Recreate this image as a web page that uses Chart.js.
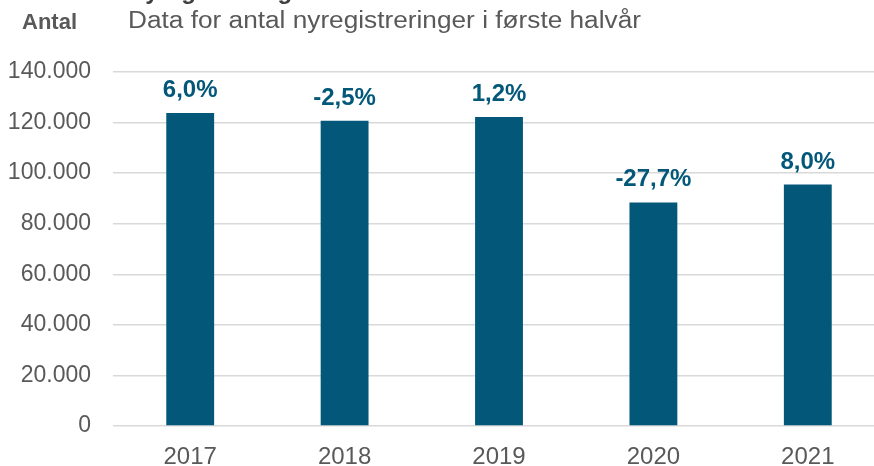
<!DOCTYPE html>
<html>
<head>
<meta charset="utf-8">
<script src="https://cdn.jsdelivr.net/npm/chart.js@4"></script>
<style>
  html, body { margin: 0; padding: 0; background: #fff; overflow: hidden; }
  /* the original plot runs a little past the right edge of the frame */
  #wrap { width: 874px; height: 466px; overflow: hidden; }
</style>
</head>
<body>
<div id="wrap"><canvas id="chart" width="885" height="466"></canvas></div>
<script>
// data
var years = ['2017', '2018', '2019', '2020', '2021'];
var registrations = [123800, 120700, 122200, 88400, 95500];
var changeLabels = ['6,0%', '-2,5%', '1,2%', '-27,7%', '8,0%'];
var yTicks = [0, 20000, 40000, 60000, 80000, 100000, 120000, 140000];

var barColor = '#03587A';
var textGray = '#595959';
var fontFam = '"Liberation Sans", Arial, sans-serif';

// percent change above each bar, placed from the bar element itself
var barLabels = {
  id: 'barLabels',
  afterDatasetsDraw: function(chart) {
    var ctx = chart.ctx;
    var meta = chart.getDatasetMeta(0);
    ctx.save();
    ctx.font = 'bold 24px ' + fontFam;
    ctx.fillStyle = barColor;
    ctx.textAlign = 'center';
    ctx.textBaseline = 'alphabetic';
    meta.data.forEach(function(bar, i) {
      ctx.fillText(changeLabels[i], bar.x, bar.y - 16);
    });
    ctx.restore();
  }
};

// heading texts at the top (the main title is cut off by the frame)
var headings = {
  id: 'headings',
  afterDraw: function(chart) {
    var ctx = chart.ctx;
    ctx.save();
    ctx.textBaseline = 'alphabetic';
    ctx.textAlign = 'left';
    ctx.fillStyle = '#404040';
    ctx.font = 'bold 24px ' + fontFam;
    ctx.fillText('Nyregistreringer', 128, -1);
    ctx.fillStyle = textGray;
    ctx.font = 'bold 22px ' + fontFam;
    ctx.fillText('Antal', 22, 29);
    // the subtitle is drawn a bit wider than its height, as in the original
    ctx.translate(128, 28);
    ctx.scale(1.14, 1);
    ctx.font = '23px ' + fontFam;
    ctx.fillText('Data for antal nyregistreringer i første halvår', 0, 0);
    ctx.restore();
  }
};

new Chart(document.getElementById('chart'), {
  type: 'bar',
  data: {
    labels: years,
    datasets: [{
      data: registrations,
      backgroundColor: barColor,
      barPercentage: 0.31,
      categoryPercentage: 1.0
    }]
  },
  options: {
    responsive: false,
    animation: false,
    layout: { padding: { top: 72, left: 4, right: 0, bottom: 0 } },
    plugins: {
      legend: { display: false },
      tooltip: { enabled: false }
    },
    scales: {
      x: {
        grid: { display: false },
        border: { display: false },
        afterFit: function(axis) { axis.height = 40; },
        ticks: {
          color: textGray,
          padding: 9,
          font: { family: fontFam, size: 24 }
        }
      },
      y: {
        min: 0,
        max: 140000,
        afterBuildTicks: function(axis) {
          axis.ticks = yTicks.map(function(v) { return { value: v }; });
        },
        afterFit: function(axis) { axis.width = 109; },
        grid: { color: '#D9D9D9', lineWidth: 1.5, drawTicks: false },
        border: { display: false },
        ticks: {
          color: textGray,
          padding: 22,
          font: { family: fontFam, size: 23 },
          callback: function(v) {
            return v === 0 ? '0' : v.toLocaleString('da-DK');
          }
        }
      }
    }
  },
  plugins: [barLabels, headings]
});
</script>
</body>
</html>
